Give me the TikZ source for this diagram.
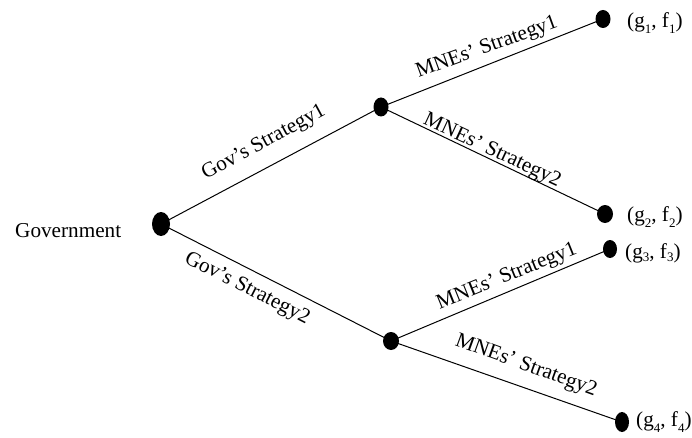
\documentclass[tikz,border=0pt]{standalone}
\usepackage{fontspec}
\setmainfont{Liberation Serif}
\newcommand{\lowsub}[1]{\raisebox{-0.55ex}{\fontsize{13}{13}\selectfont #1}}
\newcommand{\midsub}[1]{\raisebox{-0.3ex}{\fontsize{13}{13}\selectfont #1}}
\begin{document}
\begin{tikzpicture}[x=1pt,y=-1pt,
  lbl/.style={font=\fontsize{21.2}{24}\selectfont,inner sep=0pt},
  edge/.style={draw=black,line width=1pt}]
\useasboundingbox (0,0) rectangle (692,438);
% node positions (dots)
\coordinate (G) at (161,224);
\coordinate (N1) at (381,107);
\coordinate (N2) at (391,341);
\coordinate (L1) at (603,19);
\coordinate (L2) at (605,214);
\coordinate (L3) at (610,249);
\coordinate (L4) at (622,422);
% edges
\draw[edge] (G) -- (N1);
\draw[edge] (G) -- (N2);
\draw[edge] (N1) -- (L1);
\draw[edge] (N1) -- (L2);
\draw[edge] (N2) -- (L3);
\draw[edge] (N2) -- (L4);
% dots
\fill (G) ellipse [x radius=9, y radius=12];
\fill (N1) ellipse [x radius=7.5, y radius=9.5];
\fill (N2) ellipse [x radius=8, y radius=9];
\fill (L1) ellipse [x radius=7.5, y radius=9];
\fill (L2) ellipse [x radius=8, y radius=9];
\fill (L3) ellipse [x radius=7, y radius=9];
\fill (L4) ellipse [x radius=7, y radius=10];
% texts
\node[lbl,anchor=base west] (gov) at (15,237) {Government};
\node[lbl,anchor=west] (t1) at (627,23) {(g\lowsub{1}, f\lowsub{1})};
\node[lbl,anchor=west] (t2) at (627,217) {(g\lowsub{2}, f\lowsub{2})};
\node[lbl,anchor=west] (t3) at (625,253) {(g\midsub{3}, f\midsub{3})};
\node[lbl,anchor=west] (t4) at (636,422) {(g\lowsub{4}, f\lowsub{4})};
% edge labels
\node[lbl,rotate=28.5] (e1) at (264,143) {Gov’s Strategy1};
\node[lbl,rotate=-27] (e2) at (247,289) {Gov’s Strategy2};
\node[lbl,rotate=20] (e3) at (487,48) {MNEs’ Strategy1};
\node[lbl,rotate=-25] (e4) at (492,151) {MNEs’ Strategy2};
\node[lbl,rotate=22] (e5) at (507,277) {MNEs’ Strategy1};
\node[lbl,rotate=-20] (e6) at (526,366) {MNEs’ Strategy2};
\end{tikzpicture}
\end{document}
